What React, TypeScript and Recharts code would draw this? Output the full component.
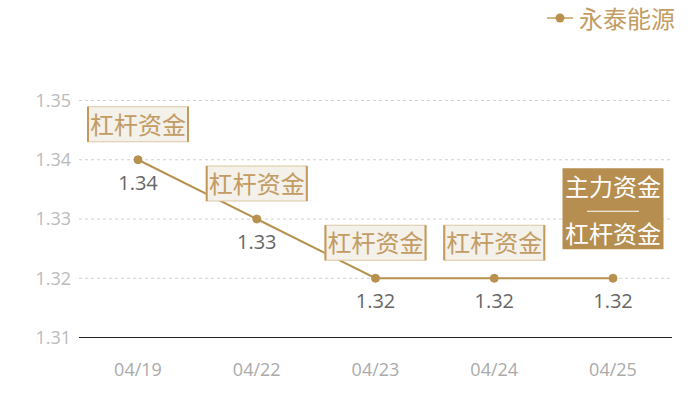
import React from 'react';
import { LineChart, Line, XAxis, YAxis, CartesianGrid, Legend, LabelList } from 'recharts';

const dates = ['04/19', '04/22', '04/23', '04/24', '04/25'];
const values = [1.34, 1.33, 1.32, 1.32, 1.32];
const tags: string[][] = [['杠杆资金'], ['杠杆资金'], ['杠杆资金'], ['杠杆资金'], ['主力资金', '杠杆资金']];
const highlight = [false, false, false, false, true];
const yTicks = [1.31, 1.32, 1.33, 1.34, 1.35];
const seriesName = '永泰能源';

const data = dates.map((d, i) => ({ date: d, value: values[i] }));

const GOLD = '#b8914f';
const FONT = '"Noto Sans CJK SC", "Noto Sans", sans-serif';
const NUMFONT = '"Open Sans", "Noto Sans", sans-serif';

const PointLabel = (props: any) => {
  const { x, y, index, value } = props;
  const lines = tags[index] || [];
  const w = 101;
  const valueText = (
    <text x={x} y={y + 23} dy="0.35em" textAnchor="middle" fill="#666" fontSize={20} fontFamily={NUMFONT}>
      {Number(value).toFixed(2)}
    </text>
  );
  if (highlight[index]) {
    const h = 81;
    const top = y - 29 - h;
    const left = x - w / 2;
    return (
      <g>
        <rect x={left} y={top} width={w} height={h} fill="#b58e50" />
        <text x={x} y={top + 19} dy="0.35em" textAnchor="middle" fill="#fff" fontSize={24} fontFamily={FONT}>
          {lines[0]}
        </text>
        <line x1={x - 26} x2={x + 26} y1={top + 43} y2={top + 43} stroke="#fff" strokeWidth={1.2} />
        <text x={x} y={top + 66} dy="0.35em" textAnchor="middle" fill="#fff" fontSize={24} fontFamily={FONT}>
          {lines[1]}
        </text>
        {valueText}
      </g>
    );
  }
  const h = 35;
  const top = y - 18 - h;
  const left = x - w / 2;
  return (
    <g>
      <rect x={left} y={top} width={w} height={h} fill="#f4f0ea" stroke="#dcc7a4" strokeWidth={1} />
      <line x1={left + 0.5} x2={left + 0.5} y1={top} y2={top + h} stroke="#c49a5c" strokeWidth={2} />
      <line x1={left + w - 0.5} x2={left + w - 0.5} y1={top} y2={top + h} stroke="#c49a5c" strokeWidth={2} />
      <text x={x} y={top + h / 2 + 1} dy="0.35em" textAnchor="middle" fill="#c29c62" fontSize={24} fontFamily={FONT}>
        {lines[0]}
      </text>
      {valueText}
    </g>
  );
};

const LegendContent = () => (
  <div style={{ height: 36, display: 'flex', alignItems: 'center', fontFamily: FONT }}>
    <svg width={26} height={12} style={{ marginRight: 6 }}>
      <line x1={0} x2={26} y1={6} y2={6} stroke="#d2b684" strokeWidth={2} />
      <circle cx={13} cy={6} r={4.5} fill={GOLD} />
    </svg>
    <span style={{ color: '#c29c62', fontSize: 24, lineHeight: '36px' }}>{seriesName}</span>
  </div>
);

export default function App() {
  return (
    <div style={{ position: 'absolute', left: 0, top: 0, width: 700, height: 400, background: '#fff' }}>
      <LineChart width={700} height={400} data={data} margin={{ top: 64.5, right: 28, bottom: 22.5, left: 0 }}>
        <Legend verticalAlign="top" align="right" content={<LegendContent />} wrapperStyle={{ top: 0, right: 25, left: 'auto', width: 'auto' }} />
        <CartesianGrid vertical={false} stroke="#d0d0d0" strokeDasharray="3 3" />
        <XAxis
          dataKey="date"
          height={40}
          padding={{ left: 59, right: 59 }}
          axisLine={{ stroke: '#222', strokeWidth: 1 }}
          tickLine={false}
          tickMargin={20}
          tick={{ fill: '#aaa', fontSize: 18, fontFamily: NUMFONT }}
        />
        <YAxis
          width={79}
          domain={[1.31, 1.35]}
          ticks={yTicks}
          axisLine={false}
          tickLine={false}
          tick={{ fill: '#bbb', fontSize: 18, fontFamily: NUMFONT }}
          tickFormatter={(v: number) => v.toFixed(2)}
        />
        <Line
          type="linear"
          dataKey="value"
          name={seriesName}
          stroke={GOLD}
          strokeWidth={2}
          dot={{ r: 4, fill: GOLD, stroke: GOLD, strokeWidth: 1 }}
          activeDot={false}
          isAnimationActive={false}
        >
          <LabelList dataKey="value" content={<PointLabel />} />
        </Line>
      </LineChart>
    </div>
  );
}
